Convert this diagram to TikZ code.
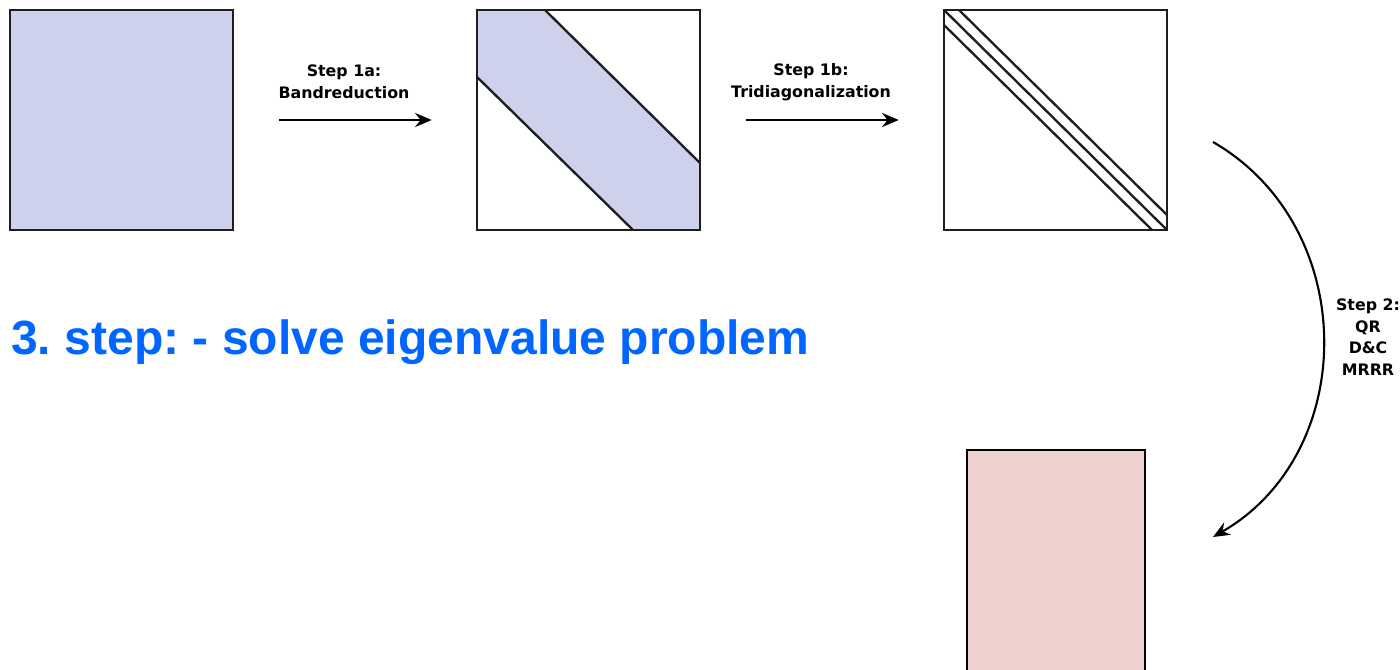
\documentclass[tikz,border=0pt]{standalone}
\usepackage{fontspec}
\usepackage{tikz}
\usetikzlibrary{positioning, arrows.meta}
\newfontfamily\lblfont{DejaVu Sans}
\newfontfamily\headfont{Liberation Sans}
\definecolor{bandBlue} {HTML}{CDD1EB}
\definecolor{eigPink}  {HTML}{EFD1D0}
\definecolor{headBlue} {HTML}{0066FF}
\definecolor{edgeDark} {HTML}{1E1E1E}
\frenchspacing

\begin{document}
\begin{tikzpicture}[x=0.3mm, y=-0.3mm,
    mat/.style={draw=edgeDark, line width=2.1pt, minimum width=66.9mm,
                minimum height=66mm, inner sep=0pt},
    diag/.style={draw=edgeDark, line width=2pt},
    flow/.style={-{Stealth[length=5mm, width=4.2mm]}, line width=2.3pt},
    steplbl/.style={font=\lblfont\bfseries\fontsize{13.5}{18.5}\selectfont,
                    align=center, inner sep=0pt}]
  \useasboundingbox (0,0) rectangle (1400,669);

  % full matrix
  \node[mat, fill=bandBlue] (full) at (121.5,120) {};

  % band matrix
  \fill[bandBlue] (477,10) -- (545,10) -- (700,163) -- (700,230)
                  -- (633,230) -- (477,77) -- cycle;
  \draw[diag] (545,10) -- (700,163);
  \draw[diag] (477,77) -- (633,230);
  \node[mat] (band) at (588.5,120) {};

  % tridiagonal matrix
  \draw[diag] (959,10) -- (1167,215);
  \draw[diag] (944,10) -- (1167,230);
  \draw[diag] (944,25) -- (1152,230);
  \node[mat] (tri) at (1055.5,120) {};

  \draw[flow, shorten <=13.5mm, shorten >=13.2mm] (full) -- (band);
  \node[steplbl] (lbl1a) at (344,82) {Step 1a:\\Bandreduction};
  \draw[flow, shorten <=13.5mm, shorten >=13.2mm] (band) -- (tri);
  \node[steplbl] (lbl1b) at (811,82) {Step 1b:\\Tridiagonalization};

  % step 2
  \coordinate (s2from) at (1213,142);
  \coordinate (s2to) at (1213,537);
  \draw[-{Stealth[length=5mm, width=4.2mm]}, line width=1.8pt]
       (s2from) to[bend left=60, looseness=1.1] (s2to);
  \node[steplbl] (lbl2) at (1368,337) {Step 2:\\QR\\D\&C\\MRRR};

  % eigenvectors
  \begin{scope}
    \clip (0,0) rectangle (1400,669);
    \node[draw=black, line width=2.4pt, fill=eigPink, minimum width=53.4mm,
          minimum height=81mm, inner sep=0pt] (eig) at (1056,585) {};
  \end{scope}

  \node[font=\headfont\bfseries\fontsize{41}{48}\selectfont, text=headBlue,
        anchor=base west, inner sep=0pt] (head) at (11,354)
       {3. step: - solve eigenvalue problem};
\end{tikzpicture}
\end{document}
